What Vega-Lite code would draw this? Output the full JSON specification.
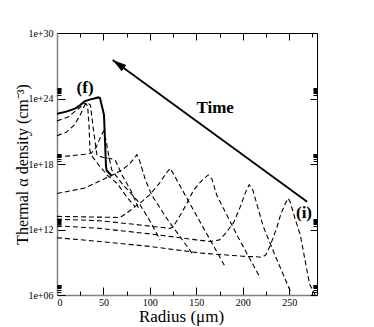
{
  "$schema": "https://vega.github.io/schema/vega-lite/v6.json",
  "width": 260,
  "height": 262,
  "autosize": {"type": "none"},
  "padding": {"left": 57, "top": 33, "right": 57, "bottom": 32},
  "background": "white",
  "config": {"view": {"stroke": null}, "font": "Liberation Serif"},
  "resolve": {"axis": {"x": "independent", "y": "independent"}},
  "datasets": {
    "dashed": [
      {"curve": "c1", "radius": 0, "density": 1.778e11},
      {"curve": "c1", "radius": 46, "density": 7.943e10},
      {"curve": "c1", "radius": 100, "density": 2.818e10},
      {"curve": "c1", "radius": 154, "density": 7.079e9},
      {"curve": "c1", "radius": 200, "density": 3.548e9},
      {"curve": "c1", "radius": 215, "density": 3.162e9},
      {"curve": "c1", "radius": 221, "density": 2.818e9},
      {"curve": "c1", "radius": 225, "density": 5.012e9},
      {"curve": "c1", "radius": 230, "density": 3.981e10},
      {"curve": "c1", "radius": 237, "density": 1.778e12},
      {"curve": "c1", "radius": 241, "density": 2.512e13},
      {"curve": "c1", "radius": 246, "density": 2.512e14},
      {"curve": "c1", "radius": 249, "density": 7.079e14},
      {"curve": "c1", "radius": 251, "density": 3.548e14},
      {"curve": "c1", "radius": 256, "density": 1.259e13},
      {"curve": "c1", "radius": 262, "density": 3.162e11},
      {"curve": "c1", "radius": 272, "density": 1e7},
      {"curve": "c1", "radius": 278, "density": 1e6},
      {"curve": "c2", "radius": 0, "density": 2.239e12},
      {"curve": "c2", "radius": 46, "density": 1.259e12},
      {"curve": "c2", "radius": 100, "density": 3.981e11},
      {"curve": "c2", "radius": 150, "density": 1.122e11},
      {"curve": "c2", "radius": 165, "density": 7.943e10},
      {"curve": "c2", "radius": 175, "density": 1.122e11},
      {"curve": "c2", "radius": 182, "density": 5.012e11},
      {"curve": "c2", "radius": 190, "density": 3.981e12},
      {"curve": "c2", "radius": 197, "density": 1e14},
      {"curve": "c2", "radius": 203, "density": 2.512e15},
      {"curve": "c2", "radius": 207, "density": 1.259e16},
      {"curve": "c2", "radius": 211, "density": 3.981e15},
      {"curve": "c2", "radius": 217, "density": 6.31e13},
      {"curve": "c2", "radius": 222, "density": 1.995e12},
      {"curve": "c2", "radius": 235, "density": 3.981e9},
      {"curve": "c2", "radius": 252, "density": 1.585e6},
      {"curve": "c3", "radius": 0, "density": 8.913e12},
      {"curve": "c3", "radius": 46, "density": 6.31e12},
      {"curve": "c3", "radius": 80, "density": 3.162e12},
      {"curve": "c3", "radius": 122, "density": 1.259e12},
      {"curve": "c3", "radius": 125, "density": 1.778e12},
      {"curve": "c3", "radius": 132, "density": 1.585e13},
      {"curve": "c3", "radius": 140, "density": 2.512e14},
      {"curve": "c3", "radius": 147, "density": 3.981e15},
      {"curve": "c3", "radius": 156, "density": 3.162e16},
      {"curve": "c3", "radius": 163, "density": 1e17},
      {"curve": "c3", "radius": 167, "density": 3.981e16},
      {"curve": "c3", "radius": 172, "density": 1.413e15},
      {"curve": "c3", "radius": 195, "density": 1.995e11},
      {"curve": "c3", "radius": 219, "density": 3.548e7},
      {"curve": "c4", "radius": 0, "density": 1.585e13},
      {"curve": "c4", "radius": 35, "density": 1.413e13},
      {"curve": "c4", "radius": 68, "density": 1.259e13},
      {"curve": "c4", "radius": 75, "density": 3.162e13},
      {"curve": "c4", "radius": 82, "density": 8.913e13},
      {"curve": "c4", "radius": 92, "density": 3.981e14},
      {"curve": "c4", "radius": 100, "density": 1.585e15},
      {"curve": "c4", "radius": 110, "density": 1.585e16},
      {"curve": "c4", "radius": 118, "density": 1.585e17},
      {"curve": "c4", "radius": 122, "density": 3.981e17},
      {"curve": "c4", "radius": 126, "density": 1e17},
      {"curve": "c4", "radius": 138, "density": 1.413e15},
      {"curve": "c4", "radius": 160, "density": 6.31e11},
      {"curve": "c4", "radius": 181, "density": 3.981e8},
      {"curve": "c5", "radius": 0, "density": 1.995e15},
      {"curve": "c5", "radius": 15, "density": 3.548e15},
      {"curve": "c5", "radius": 30, "density": 6.31e15},
      {"curve": "c5", "radius": 45, "density": 2.512e16},
      {"curve": "c5", "radius": 60, "density": 1e17},
      {"curve": "c5", "radius": 70, "density": 2.818e17},
      {"curve": "c5", "radius": 78, "density": 1e18},
      {"curve": "c5", "radius": 84, "density": 3.981e18},
      {"curve": "c5", "radius": 86, "density": 7.079e18},
      {"curve": "c5", "radius": 89, "density": 1.995e18},
      {"curve": "c5", "radius": 95, "density": 3.981e16},
      {"curve": "c5", "radius": 102, "density": 1.413e15},
      {"curve": "c5", "radius": 120, "density": 6.31e12},
      {"curve": "c5", "radius": 147, "density": 4.467e9},
      {"curve": "c6", "radius": 0, "density": 4.467e18},
      {"curve": "c6", "radius": 15, "density": 5.623e18},
      {"curve": "c6", "radius": 30, "density": 7.943e18},
      {"curve": "c6", "radius": 37, "density": 1e19},
      {"curve": "c6", "radius": 42, "density": 3.162e19},
      {"curve": "c6", "radius": 46, "density": 1.995e20},
      {"curve": "c6", "radius": 50, "density": 1e21},
      {"curve": "c6", "radius": 53, "density": 1.259e20},
      {"curve": "c6", "radius": 56, "density": 3.981e18},
      {"curve": "c6", "radius": 59, "density": 2.818e17},
      {"curve": "c6", "radius": 70, "density": 1.585e16},
      {"curve": "c6", "radius": 87, "density": 3.981e14},
      {"curve": "c6", "radius": 100, "density": 6.31e12},
      {"curve": "c6", "radius": 111, "density": 1.122e11},
      {"curve": "c7", "radius": 0, "density": 3.981e20},
      {"curve": "c7", "radius": 10, "density": 7.943e20},
      {"curve": "c7", "radius": 19, "density": 3.981e21},
      {"curve": "c7", "radius": 25, "density": 3.162e22},
      {"curve": "c7", "radius": 30, "density": 2.512e23},
      {"curve": "c7", "radius": 33, "density": 3.981e23},
      {"curve": "c7", "radius": 36, "density": 2.512e23},
      {"curve": "c7", "radius": 39, "density": 1.995e21},
      {"curve": "c7", "radius": 43, "density": 6.31e18},
      {"curve": "c7", "radius": 50, "density": 3.981e18},
      {"curve": "c7", "radius": 58, "density": 3.162e18},
      {"curve": "c7", "radius": 63, "density": 1.995e18},
      {"curve": "c7", "radius": 70, "density": 1e17},
      {"curve": "c7", "radius": 80, "density": 3.162e15},
      {"curve": "c7", "radius": 88, "density": 7.943e13},
      {"curve": "c8", "radius": 0, "density": 8.913e21},
      {"curve": "c8", "radius": 12, "density": 1.995e22},
      {"curve": "c8", "radius": 19, "density": 6.31e22},
      {"curve": "c8", "radius": 25, "density": 1.585e23},
      {"curve": "c8", "radius": 29, "density": 3.162e23},
      {"curve": "c8", "radius": 31, "density": 3.548e23},
      {"curve": "c8", "radius": 33, "density": 1.995e23},
      {"curve": "c8", "radius": 34.5, "density": 3.162e21},
      {"curve": "c8", "radius": 35.5, "density": 1.585e19},
      {"curve": "c8", "radius": 37, "density": 6.31e18},
      {"curve": "c8", "radius": 45, "density": 7.943e17},
      {"curve": "c8", "radius": 55, "density": 7.943e16},
      {"curve": "c8", "radius": 65, "density": 1.585e16},
      {"curve": "c8", "radius": 75, "density": 1e15},
      {"curve": "c8", "radius": 84, "density": 1.259e14}
    ],
    "solid": [
      {"radius": 0, "density": 3.981e22},
      {"radius": 10, "density": 6.31e22},
      {"radius": 20, "density": 1.259e23},
      {"radius": 25, "density": 2.512e23},
      {"radius": 30, "density": 5.623e23},
      {"radius": 35, "density": 7.943e23},
      {"radius": 40, "density": 1e24},
      {"radius": 44.5, "density": 1.259e24},
      {"radius": 46.3, "density": 1.122e24},
      {"radius": 50.6, "density": 3.162e22},
      {"radius": 52.8, "density": 5.623e17},
      {"radius": 53.5, "density": 2.512e17},
      {"radius": 59, "density": 7.943e16}
    ],
    "arrow": [
      {"radius": 269.4, "density": 3.548e14, "radius_end": 60, "density_end": 3.39e27}
    ],
    "labels": [
      {"label": "(f)", "radius": 30.2, "density": 9.1e24},
      {"label": "Time", "radius": 170.3, "density": 1.23e23},
      {"label": "(i)", "radius": 266, "density": 2.95e13}
    ]
  },
  "layer": [
    {
      "data": {"name": "dashed"},
      "mark": {"type": "line", "strokeDash": [5, 3], "strokeWidth": 1.1, "color": "black", "clip": true},
      "encoding": {
        "x": {
          "field": "radius", "type": "quantitative",
          "scale": {"domain": [0, 280], "nice": false, "zero": false},
          "axis": {
            "orient": "bottom", "values": [0, 50, 100, 150, 200, 250],
            "tickSize": -8, "tickColor": "black", "tickWidth": 1,
            "labelPadding": 10, "labelFontSize": 10, "labelFont": "Liberation Serif", "labelColor": "black",
            "domainColor": "#808080", "domainWidth": 1.5, "grid": false,
            "title": "Radius (μm)", "titleFont": "Liberation Serif", "titleFontSize": 17, "titleFontWeight": "normal",
            "titleColor": "black", "titleX": 124, "titleY": 26, "titleBaseline": "alphabetic", "titleAlign": "center"
          }
        },
        "y": {
          "field": "density", "type": "quantitative",
          "scale": {"type": "log", "domain": [1e6, 1e30], "nice": false},
          "axis": {
            "orient": "left", "values": [1e6, 1e12, 1e18, 1e24, 1e30],
            "labelExpr": "'1e+' + (datum.value < 1e10 ? '0' : '') + format(log(datum.value) / LN10, '.0f')",
            "tickSize": -8, "tickColor": "black", "tickWidth": 1,
            "labelPadding": 12, "labelFontSize": 10, "labelFont": "Liberation Serif", "labelColor": "black",
            "domainColor": "#808080", "domainWidth": 1.5, "grid": false,
            "title": "Thermal α density (cm⁻³)", "titleFont": "Liberation Serif", "titleFontSize": 16, "titleFontWeight": "normal",
            "titleColor": "black", "titleX": -30, "titleY": 131, "titleAngle": -90, "titleBaseline": "alphabetic", "titleAlign": "center"
          }
        },
        "detail": {"field": "curve", "type": "nominal"}
      }
    },
    {
      "data": {"name": "solid"},
      "mark": {"type": "line", "strokeWidth": 2, "color": "black", "clip": true},
      "encoding": {
        "x": {
          "field": "radius", "type": "quantitative",
          "scale": {"domain": [0, 280], "nice": false, "zero": false},
          "axis": {
            "orient": "top", "values": [0, 50, 100, 150, 200, 250], "labels": false,
            "tickSize": -7, "tickColor": "black", "domainColor": "black", "domainWidth": 1, "grid": false, "title": null
          }
        },
        "y": {
          "field": "density", "type": "quantitative",
          "scale": {"type": "log", "domain": [1e6, 1e30], "nice": false},
          "axis": {
            "orient": "right", "values": [1e6, 1e12, 1e18, 1e24, 1e30], "labels": false,
            "tickSize": -7, "tickColor": "black", "domainColor": "black", "domainWidth": 1, "grid": false, "title": null
          }
        }
      }
    },
    {
      "data": {"name": "arrow"},
      "mark": {"type": "rule", "strokeWidth": 1.8, "color": "black"},
      "encoding": {
        "x": {
          "field": "radius", "type": "quantitative",
          "scale": {"domain": [0, 280], "nice": false, "zero": false},
          "axis": {
            "orient": "bottom", "values": [25, 75, 125, 175, 225, 275], "labels": false, "domain": false,
            "tickSize": -4, "tickColor": "black", "grid": false, "title": null
          }
        },
        "x2": {"field": "radius_end"},
        "y": {
          "field": "density", "type": "quantitative",
          "scale": {"type": "log", "domain": [1e6, 1e30], "nice": false},
          "axis": {
            "orient": "left",
            "values": [2e6, 3e6, 4e6, 5e6, 6e6, 7e6, 8e6, 9e6, 2e12, 3e12, 4e12, 5e12, 6e12, 7e12, 8e12, 9e12, 2e18, 3e18, 4e18, 5e18, 6e18, 7e18, 8e18, 9e18, 2e24, 3e24, 4e24, 5e24, 6e24, 7e24, 8e24, 9e24],
            "labels": false, "domain": false, "tickSize": -4, "tickColor": "black", "grid": false, "title": null
          }
        },
        "y2": {"field": "density_end"}
      }
    },
    {
      "data": {"name": "arrow"},
      "mark": {"type": "point", "shape": "M0,0L0.45,1.6L-0.45,1.6Z", "filled": true, "opacity": 1, "color": "black", "size": 300, "angle": 306, "strokeWidth": 0},
      "encoding": {
        "x": {
          "field": "radius_end", "type": "quantitative",
          "scale": {"domain": [0, 280], "nice": false, "zero": false},
          "axis": {
            "orient": "top", "values": [25, 75, 125, 175, 225, 275], "labels": false, "domain": false,
            "tickSize": -4, "tickColor": "black", "grid": false, "title": null
          }
        },
        "y": {
          "field": "density_end", "type": "quantitative",
          "scale": {"type": "log", "domain": [1e6, 1e30], "nice": false},
          "axis": {
            "orient": "right",
            "values": [2e6, 3e6, 4e6, 5e6, 6e6, 7e6, 8e6, 9e6, 2e12, 3e12, 4e12, 5e12, 6e12, 7e12, 8e12, 9e12, 2e18, 3e18, 4e18, 5e18, 6e18, 7e18, 8e18, 9e18, 2e24, 3e24, 4e24, 5e24, 6e24, 7e24, 8e24, 9e24],
            "labels": false, "domain": false, "tickSize": -4, "tickColor": "black", "grid": false, "title": null
          }
        }
      }
    },
    {
      "data": {"name": "labels"},
      "mark": {"type": "text", "font": "Liberation Serif", "fontWeight": "bold", "fontSize": 17, "color": "black", "align": "center", "baseline": "middle"},
      "encoding": {
        "x": {"field": "radius", "type": "quantitative", "scale": {"domain": [0, 280], "nice": false, "zero": false}, "axis": null},
        "y": {"field": "density", "type": "quantitative", "scale": {"type": "log", "domain": [1e6, 1e30], "nice": false}, "axis": null},
        "text": {"field": "label", "type": "nominal"}
      }
    }
  ]
}
